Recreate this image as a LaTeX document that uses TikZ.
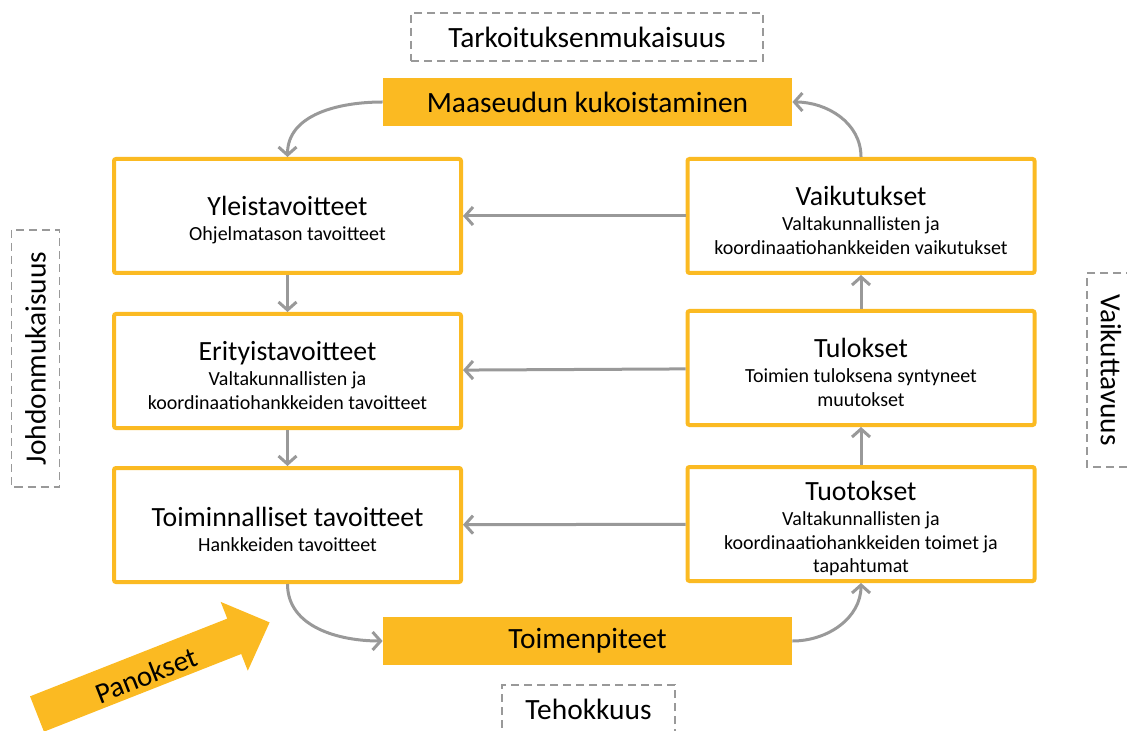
\documentclass[tikz,border=0pt]{standalone}
\usepackage{fontspec}
\setmainfont{Carlito}
\usetikzlibrary{arrows.meta}
\definecolor{oranssi}{HTML}{FBBA22}
\definecolor{harmaa}{HTML}{999999}
\newcommand{\otsikko}[1]{{\fontsize{13.9}{16}\selectfont\rule{0pt}{14pt}#1}}

\begin{document}
\begin{tikzpicture}[x=0.5pt,y=-0.5pt,
    tavoite/.style={draw=oranssi,line width=2pt,rounded corners=1pt,fill=white,
      minimum width=173.5pt,minimum height=57pt,align=center,inner sep=2pt,
      font=\fontsize{10}{11.7}\selectfont},
    taso/.style={fill=oranssi,minimum width=204.5pt,minimum height=24pt,
      font=\fontsize{14.7}{16}\selectfont},
    mittari/.style={draw=harmaa,line width=0.75pt,dash pattern=on 4pt off 2.5pt,
      minimum height=24pt,font=\fontsize{14.7}{16}\selectfont},
    nuoli/.style={draw=harmaa,line width=1.5pt,-{Straight Barb[length=4pt,width=9pt]}}]
      \useasboundingbox (0,0) rectangle (1127,731);
      \clip (0,0) rectangle (1127,731);
      \node[mittari,minimum width=176pt] (tark) at (587,37) {Tarkoituksenmukaisuus};
      \node[taso] (maaseutu) at (587.5,102) {Maaseudun kukoistaminen};
      \node[tavoite] (yleis) at (287.5,216) {\otsikko{Yleistavoitteet}\\[1pt] Ohjelmatason tavoitteet};
      \node[tavoite] (erityis) at (287.5,371) {\otsikko{Erityistavoitteet}\\[1pt] Valtakunnallisten ja\\ koordinaatiohankkeiden tavoitteet};
      \node[tavoite] (toiminta) at (287.5,525) {\otsikko{Toiminnalliset tavoitteet}\\[1pt] Hankkeiden tavoitteet};
      \node[tavoite] (vaikutus) at (861,216) {\otsikko{Vaikutukset}\\[1pt] Valtakunnallisten ja\\ koordinaatiohankkeiden vaikutukset};
      \node[tavoite] (tulos) at (861,368) {\otsikko{Tulokset}\\[1pt] Toimien tuloksena syntyneet\\ muutokset};
      \node[tavoite] (tuotos) at (861,524) {\otsikko{Tuotokset}\\[1pt] Valtakunnallisten ja\\ koordinaatiohankkeiden toimet ja\\ tapahtumat};
      \node[taso] (toimet) at (587.5,641) {Toimenpiteet};
      \node[mittari,minimum width=86.5pt] (teho) at (588.5,709) {Tehokkuus};
      \node[mittari,minimum width=128.5pt,rotate=90] (johd) at (35.5,358.5) {Johdonmukaisuus};
      \node[mittari,minimum width=97pt,rotate=-90] (vaik) at (1111,370) {Vaikuttavuus};
      \draw[nuoli] (maaseutu.west) to[out=180,in=90] (yleis.north);
      \draw[nuoli] (yleis) -- (erityis);
      \draw[nuoli] (erityis) -- (toiminta);
      \draw[nuoli] (toiminta.south) to[out=-90,in=180] (toimet.west);
      \draw[nuoli] (toimet.east) to[out=0,in=-90] (tuotos.south);
      \draw[nuoli] (tuotos) -- (tulos);
      \draw[nuoli] (tulos) -- (vaikutus);
      \draw[nuoli] (vaikutus.north) to[out=90,in=0] (maaseutu.east);
      \draw[nuoli] (vaikutus) -- (yleis);
      \draw[nuoli] (tulos) -- (erityis);
      \draw[nuoli] (tuotos) -- (toiminta);
      \begin{scope}[shift={(37,714)},rotate=21.5]
        \fill[oranssi] (0,-19) -- (212,-19) -- (212,-37) -- (250,0) -- (212,37) -- (212,19) -- (0,19) -- cycle;
        \node[rotate=21.5,font=\fontsize{14.5}{16}\selectfont] (panos) at (116,4) {Panokset};
      \end{scope}
    \end{tikzpicture}
\end{document}
